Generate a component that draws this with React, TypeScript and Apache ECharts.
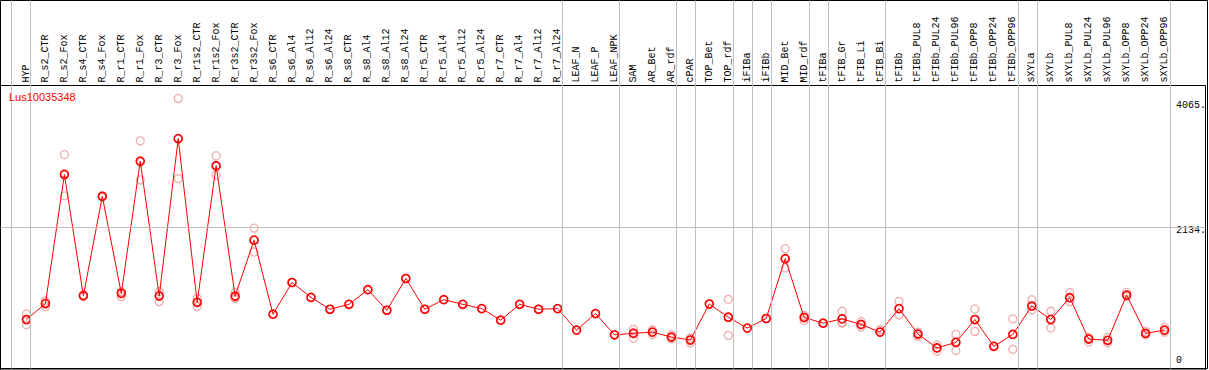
import React, { useEffect, useRef } from 'react';
import * as echarts from 'echarts';

const geneId = 'Lus10035348';

const categories = [
  'HYP', 'R_s2_CTR', 'R_s2_Fox', 'R_s4_CTR', 'R_s4_Fox', 'R_r1_CTR', 'R_r1_Fox', 'R_r3_CTR', 'R_r3_Fox',
  'R_r1s2_CTR', 'R_r1s2_Fox', 'R_r3s2_CTR', 'R_r3s2_Fox', 'R_s6_CTR', 'R_s6_Al4', 'R_s6_Al12', 'R_s6_Al24',
  'R_s8_CTR', 'R_s8_Al4', 'R_s8_Al12', 'R_s8_Al24', 'R_r5_CTR', 'R_r5_Al4', 'R_r5_Al12', 'R_r5_Al24',
  'R_r7_CTR', 'R_r7_Al4', 'R_r7_Al12', 'R_r7_Al24', 'LEAF_N', 'LEAF_P', 'LEAF_NPK', 'SAM', 'AR_Bet', 'AR_rdf',
  'cPAR', 'TOP_Bet', 'TOP_rdf', 'iFIBa', 'iFIBb', 'MID_Bet', 'MID_rdf', 'tFIBa', 'tFIB_Gr', 'tFIB_Li', 'tFIB_Bi',
  'tFIBb', 'tFIBb_PUL8', 'tFIBb_PUL24', 'tFIBb_PUL96', 'tFIBb_OPP8', 'tFIBb_OPP24', 'tFIBb_OPP96',
  'sXYLa', 'sXYLb', 'sXYLb_PUL8', 'sXYLb_PUL24', 'sXYLb_PUL96', 'sXYLb_OPP8', 'sXYLb_OPP24', 'sXYLb_OPP96',
];

const means = [
  756, 994, 2925, 1113, 2598, 1147, 3127, 1107, 3464,
  1013, 3058, 1107, 1944, 835, 1310, 1087, 909,
  983, 1202, 894, 1370, 909, 1053, 983, 919,
  746, 983, 909, 919, 597, 845, 527, 548, 567, 493,
  449, 988, 790, 627, 771, 1667, 786, 701, 765, 682, 567,
  919, 538, 330, 414, 756, 355, 533,
  958, 756, 1083, 463, 444, 1121, 548, 597,
];

const replicates: number[][] = [
  [839, 676, 750], [1032, 949, 1000], [3226, 2607, 2942], [1100, 1125], [2590, 2610], [1172, 1098, 1170],
  [3430, 2845, 3106], [1172, 1023, 1126], [4065, 2865, 3462],
  [1072, 949, 1018], [3207, 2919, 3048], [1161, 1072, 1088], [2123, 1766, 1943], [835], [1310], [1087], [909],
  [983], [1202], [894], [1370], [909], [1053], [983], [919],
  [746], [983], [909], [919], [597], [845], [527], [608, 474, 562], [602, 527, 567], [527, 468, 493],
  [478, 404, 449], [988], [1058, 518, 794], [627], [771], [1815, 1528, 1658], [815, 741, 786], [702, 701],
  [879, 701, 715], [726, 642, 682], [602, 567],
  [1028, 824, 919], [567, 503, 538], [379, 281, 330], [533, 290, 414], [913, 578, 756], [355], [765, 310, 533],
  [1053, 899, 958], [879, 631, 756], [1161, 1023, 1083], [489, 419, 463], [489, 404, 444], [1161, 1098, 1121],
  [578, 527, 548], [637, 567, 597],
];

// group separators are drawn just after these categories (plus one before the first)
const groupEnds = [
  'HYP', 'R_r7_Al24', 'LEAF_NPK', 'AR_rdf', 'cPAR', 'TOP_rdf', 'iFIBa', 'iFIBb', 'MID_rdf', 'tFIBa', 'tFIB_Bi',
  'tFIBb_OPP96', 'sXYLa', 'sXYLb_OPP96',
];

const yTickValues = [0, 2134, 4065];
const yTickLabels = ['0', '2134.', '4065.'];

// ---- layout (pixels) ----
const W = 1209;
const H = 370;
const GRID_L = 0.5;
const GRID_R = 1.5;
const STEP = 19;
const FIRST_X = 26.5;
const PLOT_W = W - GRID_L - GRID_R;
const XMIN = -(FIRST_X - GRID_L) / STEP;
const XMAX = XMIN + PLOT_W / STEP;
const SEP_OFFSET = 4 / STEP;
const PLOT_TOP = 85.5;
const ZERO_Y = 372.2;
const PX_PER_UNIT = 130 / 1931;
const YMAX = (ZERO_Y - PLOT_TOP) / PX_PER_UNIT;

const MONO = '"Liberation Mono", "DejaVu Sans Mono", monospace';

export default function App() {
  const ref = useRef<HTMLDivElement>(null);

  useEffect(() => {
    document.body.style.margin = '0';
    if (!ref.current) return;
    const chart = echarts.init(ref.current, undefined, { renderer: 'svg' });

    const sepPositions = [-1 + SEP_OFFSET].concat(
      groupEnds.map((c) => categories.indexOf(c) + SEP_OFFSET)
    );
    const repPoints: number[][] = [];
    replicates.forEach((reps, i) => reps.forEach((v) => repPoints.push([i, v])));
    const meanPoints = means.map((v, i) => [i, v]);

    const option: any = {
      animation: false,
      backgroundColor: '#ffffff',
      title: {
        text: geneId,
        left: 9,
        top: 91,
        padding: 0,
        textStyle: {
          color: '#ff0000',
          fontSize: 11,
          fontWeight: 'normal',
          fontFamily: '"Liberation Sans", Arial, sans-serif',
        },
      },
      grid: [
        {
          left: GRID_L,
          right: GRID_R,
          top: PLOT_TOP,
          bottom: H - ZERO_Y,
          show: true,
          borderColor: '#000000',
          borderWidth: 1,
          backgroundColor: 'transparent',
        },
        {
          left: GRID_L,
          right: GRID_R,
          top: 0.5,
          bottom: 1.5,
          show: true,
          borderColor: '#000000',
          borderWidth: 1,
          backgroundColor: 'transparent',
        },
      ],
      xAxis: [
        {
          type: 'value',
          gridIndex: 0,
          position: 'top',
          min: XMIN,
          max: XMAX,
          axisLine: { show: false },
          axisTick: { show: false },
          splitLine: { show: false },
          axisLabel: {
            customValues: categories.map((_, i) => i),
            formatter: (v: number) => categories[Math.round(v)] ?? '',
            rotate: 90,
            margin: 3,
            color: '#000000',
            fontSize: 10,
            fontFamily: MONO,
          },
        },
        {
          type: 'value',
          gridIndex: 1,
          min: XMIN,
          max: XMAX,
          show: false,
          splitLine: { show: false },
        },
      ],
      yAxis: [
        {
          type: 'value',
          gridIndex: 0,
          position: 'right',
          min: 0,
          max: YMAX,
          axisLine: { show: false },
          axisTick: { show: false },
          splitLine: { show: false },
          axisLabel: {
            inside: true,
            customValues: yTickValues,
            align: 'left',
            margin: 29.5,
            color: '#000000',
            fontSize: 10,
            fontFamily: MONO,
            formatter: (v: number) => {
              const k = yTickValues.indexOf(v);
              const key = k === 0 ? 'b' : k === 1 ? 'm' : 't';
              return '{' + key + '|' + yTickLabels[k] + '}';
            },
            rich: {
              b: { fontSize: 10, fontFamily: MONO, color: '#000', padding: [0, 0, 19, 0] },
              m: { fontSize: 10, fontFamily: MONO, color: '#000', padding: [7, 0, 0, 0] },
              t: { fontSize: 10, fontFamily: MONO, color: '#000', padding: [14, 0, 0, 0] },
            },
          },
        },
        {
          type: 'value',
          gridIndex: 1,
          min: 0,
          max: 1,
          show: false,
          splitLine: { show: false },
        },
      ],
      series: [
        {
          type: 'line',
          xAxisIndex: 1,
          yAxisIndex: 1,
          data: [],
          silent: true,
          markLine: {
            silent: true,
            symbol: ['none', 'none'],
            label: { show: false },
            lineStyle: { color: '#c0c0c0', type: 'solid', width: 1 },
            data: sepPositions.map((x) => ({ xAxis: x })),
          },
        },
        {
          type: 'scatter',
          xAxisIndex: 0,
          yAxisIndex: 0,
          data: repPoints,
          symbol: 'circle',
          symbolSize: 8,
          itemStyle: { color: 'rgba(0,0,0,0)', borderColor: '#eb9b9b', borderWidth: 1.3 },
          markLine: {
            silent: true,
            symbol: ['none', 'none'],
            label: { show: false },
            lineStyle: { color: '#c0c0c0', type: 'solid', width: 1 },
            data: [{ yAxis: yTickValues[1] }],
          },
        },
        {
          type: 'line',
          xAxisIndex: 0,
          yAxisIndex: 0,
          data: meanPoints,
          symbol: 'circle',
          symbolSize: 8,
          showAllSymbol: true,
          lineStyle: { color: '#ff0000', width: 1 },
          itemStyle: { color: 'rgba(0,0,0,0)', borderColor: '#ff0000', borderWidth: 1.6 },
        },
      ],
    };

    chart.setOption(option);
    return () => chart.dispose();
  }, []);

  return <div ref={ref} style={{ width: W, height: H }} />;
}
